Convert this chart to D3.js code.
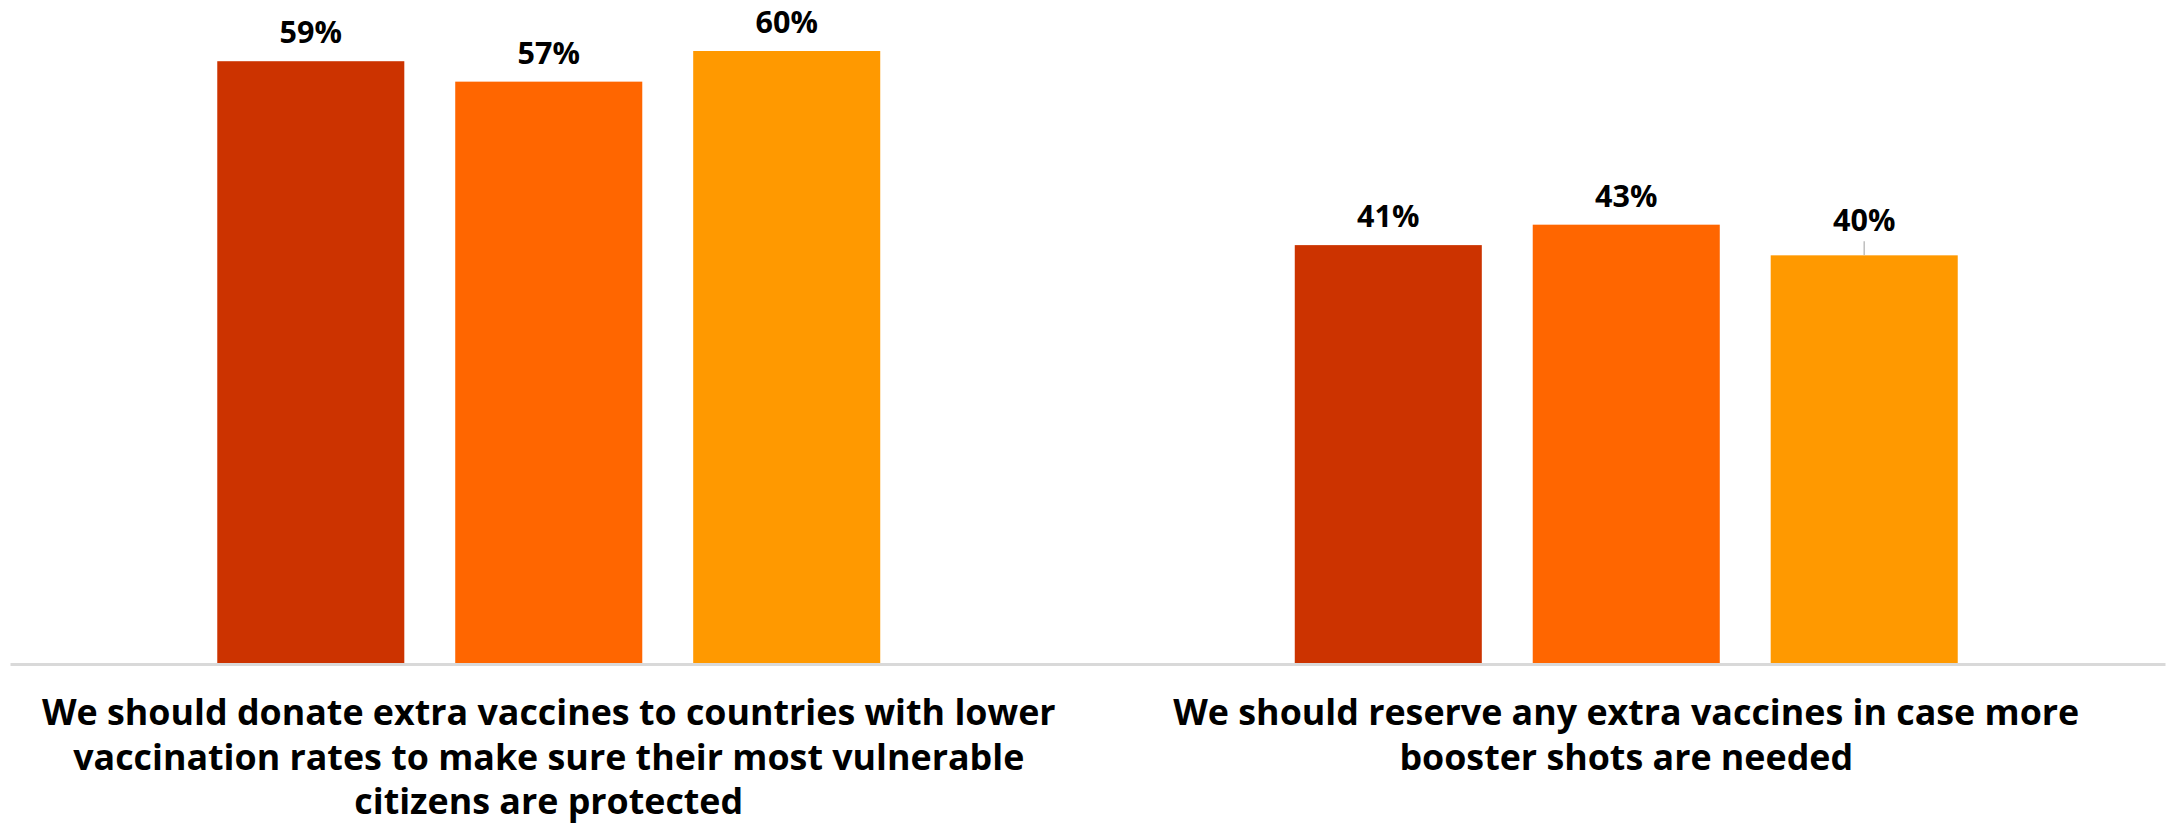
<!DOCTYPE html>
<html>
<head>
<meta charset="utf-8">
<script src="https://cdn.jsdelivr.net/npm/d3@7"></script>
<style>
  html, body { margin: 0; padding: 0; background: #fff; }
  svg { display: block; }
</style>
</head>
<body>
<svg id="chart" width="2176" height="824"></svg>
<script>
// ---- Data ----
const categories = [
  "We should donate extra vaccines to countries with lower vaccination rates to make sure their most vulnerable citizens are protected",
  "We should reserve any extra vaccines in case more booster shots are needed"
];
const categoryLines = [
  ["We should donate extra vaccines to countries with lower", "vaccination rates to make sure their most vulnerable", "citizens are protected"],
  ["We should reserve any extra vaccines in case more", "booster shots are needed"]
];
const seriesNames = ["Series 1", "Series 2", "Series 3"];
const series1 = [59, 41];
const series2 = [57, 43];
const series3 = [60, 40];
const seriesColors = ["#CC3300", "#FF6600", "#FF9900"];

const seriesValues = [series1, series2, series3];
const rows = [];
categories.forEach((c, ci) => {
  seriesNames.forEach((s, si) => rows.push({cat: c, ci, series: s, si, value: seriesValues[si][ci]}));
});

// ---- Layout ----
const svg = d3.select("#chart");
const left = 10, right = 2165, baseY = 664;

const x0 = d3.scaleBand().domain(categories).range([left, right]).padding(0);
const x1 = d3.scaleBand().domain(seriesNames).range([0, x0.bandwidth()])
  .paddingInner(0.214).paddingOuter(0.871);
const y = d3.scaleLinear().domain([0, 60]).range([baseY, 51]);
const color = d3.scaleOrdinal().domain(seriesNames).range(seriesColors);

// bars
svg.append("g").selectAll("rect").data(rows).join("rect")
  .attr("x", d => x0(d.cat) + x1(d.series))
  .attr("y", d => y(d.value))
  .attr("width", x1.bandwidth())
  .attr("height", d => y(0) - y(d.value))
  .attr("fill", d => color(d.series));

// baseline axis
const xAxis = d3.axisBottom(x0).tickSize(0).tickFormat("");
const ax = svg.append("g").attr("transform", `translate(0,${baseY})`).call(xAxis);
ax.select(".domain").attr("stroke", "#d9d9d9").attr("stroke-width", 3);

// value labels
const lifted = d => (d.ci === 1 && d.si === 2) ? 6 : 0;
svg.append("g").selectAll("line").data(rows.filter(d => lifted(d) > 0)).join("line")
  .attr("x1", d => x0(d.cat) + x1(d.series) + x1.bandwidth() / 2)
  .attr("x2", d => x0(d.cat) + x1(d.series) + x1.bandwidth() / 2)
  .attr("y1", d => y(d.value) - 14)
  .attr("y2", d => y(d.value))
  .attr("stroke", "#bfbfbf").attr("stroke-width", 1.5);

svg.append("g").selectAll("text").data(rows).join("text")
  .attr("x", d => x0(d.cat) + x1(d.series) + x1.bandwidth() / 2)
  .attr("y", d => y(d.value) - 18 - lifted(d))
  .attr("text-anchor", "middle")
  .attr("font-family", "'Open Sans', sans-serif")
  .attr("font-weight", "bold")
  .attr("font-size", 30.5)
  .attr("fill", "#000")
  .text(d => d.value + "%");

// category labels
const lineH = 44.5, firstY = 725;
const catG = svg.append("g").selectAll("text").data(categories).join("text")
  .attr("x", d => x0(d) + x0.bandwidth() / 2)
  .attr("y", firstY)
  .attr("text-anchor", "middle")
  .attr("font-family", "'Open Sans', sans-serif")
  .attr("font-weight", "bold")
  .attr("font-size", 35.8)
  .attr("fill", "#000");
catG.each(function(d, i) {
  const t = d3.select(this);
  categoryLines[i].forEach((line, li) => {
    t.append("tspan")
      .attr("x", x0(d) + x0.bandwidth() / 2)
      .attr("y", firstY + li * lineH)
      .text(line);
  });
});
</script>
</body>
</html>
